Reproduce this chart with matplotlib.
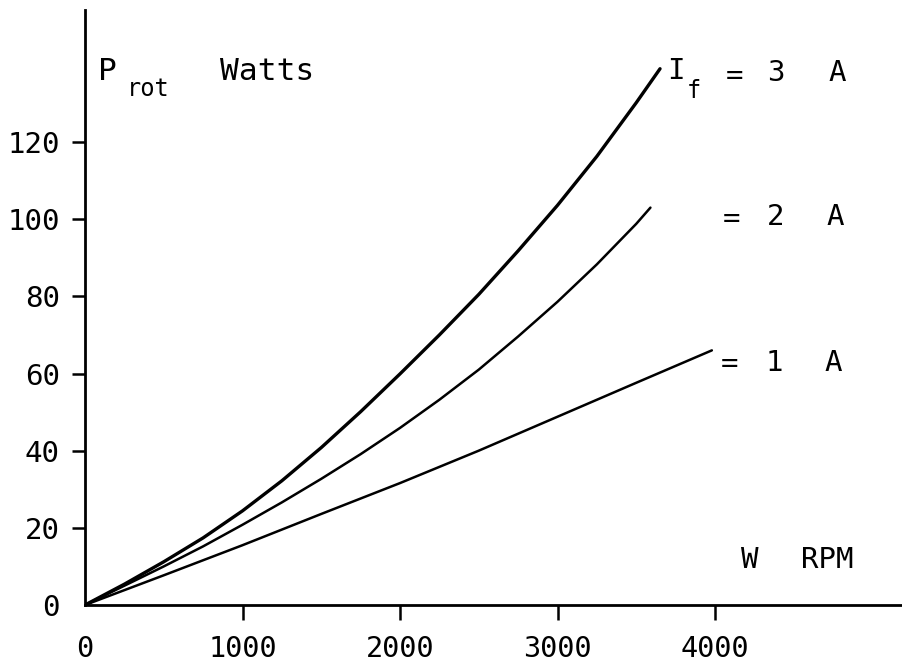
import matplotlib
matplotlib.use("Agg")
import matplotlib.pyplot as plt

# Rotational losses vs speed for three field currents
rpm_3a = [0, 250, 500, 750, 1000, 1250, 1500, 1750, 2000, 2250, 2500,
          2750, 3000, 3250, 3500, 3651]
watts_3a = [0, 5.4, 11.2, 17.4, 24.4, 32.2, 40.8, 50.1, 59.9, 70, 80.5,
            91.8, 103.6, 116.3, 130.2, 139]

rpm_2a = [0, 250, 500, 750, 1000, 1250, 1500, 1750, 2000, 2250, 2500,
          2750, 3000, 3250, 3500, 3590]
watts_2a = [0, 5, 10, 15.2, 20.8, 26.6, 32.7, 39.1, 45.9, 53.2, 61,
            69.6, 78.6, 88.3, 98.8, 103]

rpm_1a = [0, 500, 1000, 1500, 2000, 2500, 3000, 3500, 3980]
watts_1a = [0, 7.7, 15.5, 23.6, 31.6, 40, 48.8, 57.6, 66]

x_ticks = [0, 1000, 2000, 3000, 4000]
y_ticks = [0, 20, 40, 60, 80, 100, 120]

FONT = "DejaVu Sans Mono"
plt.rcParams["font.family"] = [FONT, "DejaVu Sans"]

fig = plt.figure(figsize=(9.02, 6.65), dpi=100)
W, H = 902, 665
ax = fig.add_axes([85 / W, (H - 605) / H, (W - 85) / W, (605 - 10) / H])

ax.plot(rpm_3a, watts_3a, color="black", lw=2.4, solid_capstyle="round",
        solid_joinstyle="round")
ax.plot(rpm_2a, watts_2a, color="black", lw=1.8, solid_capstyle="round",
        solid_joinstyle="round")
ax.plot(rpm_1a, watts_1a, color="black", lw=1.8, solid_capstyle="round",
        solid_joinstyle="round")

ax.set_xlim(0, 817 / 0.1575)
ax.set_ylim(0, 595 / 3.858)

for side in ("top", "right"):
    ax.spines[side].set_visible(False)
for side in ("left", "bottom"):
    ax.spines[side].set_linewidth(2.0)
    ax.spines[side].set_color("black")

ax.set_xticks(x_ticks)
ax.set_xticklabels([str(v) for v in x_ticks])
ax.set_yticks(y_ticks)
ax.set_yticklabels([str(v) for v in y_ticks])
ax.tick_params(axis="x", direction="out", length=11, width=1.8, pad=10.5,
               labelsize=20.5, colors="black")
ax.tick_params(axis="y", direction="out", length=9.5, width=1.8, pad=8.5,
               labelsize=21, colors="black")
ax.xaxis.get_major_ticks()[0].tick1line.set_visible(False)
ax.yaxis.get_major_ticks()[0].tick1line.set_visible(False)

txt = dict(color="black", ha="center", va="center", family=[FONT, "DejaVu Sans"])
big = 21
cap = 22.5

# Axis captions
ax.text(140, 138.2, "P", fontsize=cap, **txt)
ax.text(400, 133.8, "rot", fontsize=17, **txt)
ax.text(1156, 138.2, "Watts", fontsize=cap, **txt)
ax.text(4222, 11.7, "W", fontsize=big, **txt)
ax.text(4711, 11.7, "RPM", fontsize=big, **txt)

# Curve labels
ax.text(3752, 138.4, "I", fontsize=big, **txt)
ax.text(3867, 133.2, "f", fontsize=17, **txt)
ax.text(4121, 137.0, "=", fontsize=big, **txt)
ax.text(4387, 137.9, "3", fontsize=big, **txt)
ax.text(4775, 137.9, "A", fontsize=big, **txt)

ax.text(4102, 100.0, "=", fontsize=big, **txt)
ax.text(4387, 100.6, "2", fontsize=big, **txt)
ax.text(4762, 100.6, "A", fontsize=big, **txt)

ax.text(4095, 62.4, "=", fontsize=big, **txt)
ax.text(4375, 62.7, "1", fontsize=big, **txt)
ax.text(4749, 62.7, "A", fontsize=big, **txt)

fig.savefig("out.png", dpi=100, facecolor="white")
